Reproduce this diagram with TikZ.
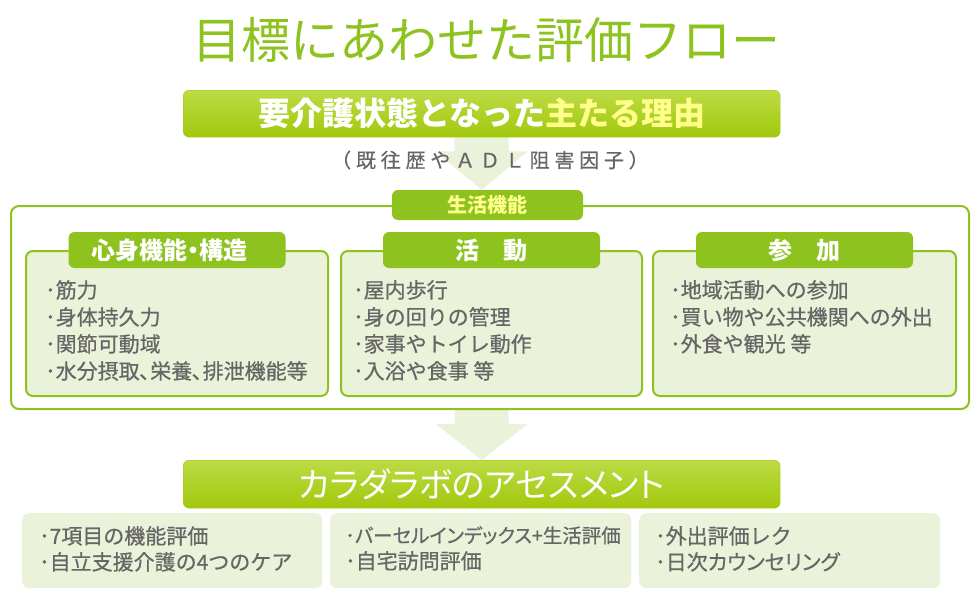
\documentclass[tikz,border=0pt]{standalone}
\usepackage{fontspec}
\setmainfont{Noto Sans CJK JP}
\newfontfamily\prop[RawFeature=+palt]{Noto Sans CJK JP}
\newfontfamily\body[FakeBold=0.6]{Noto Sans CJK JP}
\newfontfamily\bodyprop[FakeBold=0.6,RawFeature=+palt]{Noto Sans CJK JP}
\newfontfamily\wide[LetterSpace=24,FakeBold=0.5]{Noto Sans CJK JP}
\usepackage{tikz}
\usetikzlibrary{calc,positioning,backgrounds}
\definecolor{leaf}{HTML}{8DC21F}
\definecolor{leaftop}{HTML}{BCDB45}
\definecolor{leafbot}{HTML}{A2C80C}
\definecolor{pale}{HTML}{EAF2DA}
\definecolor{ink}{HTML}{666666}
\definecolor{lemon}{HTML}{FFFF8C}

\begin{document}
        \begin{tikzpicture}[x=1pt,y=-1pt,
            bar/.style={draw=leafbot,rounded corners=6pt,top color=leaftop,bottom color=leafbot,minimum width=597pt,minimum height=47pt,inner sep=0pt,text=white},
            tab/.style={fill=leaf,rounded corners=6pt,minimum width=217pt,minimum height=36pt,inner sep=0pt,text=white,font=\prop\bfseries\fontsize{24}{24}\selectfont},
            panel/.style={draw=leaf,line width=2pt,fill=pale,rounded corners=7pt,minimum height=145pt,inner sep=0pt,anchor=north west},
            card/.style={fill=pale,rounded corners=7pt,minimum height=75pt,inner sep=0pt,anchor=north west},
            items/.style={anchor=north west,align=left,inner sep=0pt,text=ink,font=\body\fontsize{21}{27}\selectfont},
            tools/.style={anchor=north west,align=left,inner sep=0pt,text=ink,font=\body\fontsize{21}{26}\selectfont}]
            \useasboundingbox (0,0) rectangle (980,608);
            \node[text=leaf,font=\fontsize{49}{49}\selectfont] (Title) at (486,40) {目標にあわせた評価フロー};
            \node[bar,anchor=north west] (Reason) at (183,90) {\bfseries\fontsize{32}{32}\selectfont 要介護状態となった\textcolor{lemon}{主たる理由}};
            \node[text=ink,font=\wide\fontsize{20}{20}\selectfont] (Note) at (490,160) {（既往歴やＡＤＬ阻害因子）};
            \node[draw=leaf,line width=2pt,fill=white,rounded corners=8pt,minimum width=958pt,minimum height=203pt,inner sep=0pt,anchor=north west] (Outer) at (10,205) {};
            \node[fill=leaf,rounded corners=6pt,minimum width=191pt,minimum height=30pt,inner sep=0pt,text=lemon,font=\bfseries\fontsize{20}{20}\selectfont] (Func) at (487.5,205) {生活機能};
            \node[panel,minimum width=302pt] (Panel0) at (25,250) {};
            \node[panel,minimum width=301pt] (Panel1) at (340,250) {};
            \node[panel,minimum width=303pt] (Panel2) at (652,250) {};
            \node[tab] (Tab0) at (Panel0.north) {心身機能・構造\hspace*{16pt}};
            \node[tab] (Tab1) at (Panel1.north) {活\hspace{1em}動};
            \node[tab] (Tab2) at (Panel2.north) {参\hspace{1em}加};
            \node[items] (List0) at (45,280) {･筋力\\･身体持久力\\･関節可動域\\･水分摂取､栄養､排泄機能等};
            \node[items] (List1) at (353,280) {･屋内歩行\\･身の回りの管理\\･家事やトイレ動作\\･入浴や食事\ 等};
            \node[items] (List2) at (670,280) {･地域活動への参加\\･買い物や公共機関への外出\\･外食や観光\ 等};
            \node[bar,minimum height=48pt,anchor=north west] (Assess) at (183,460) {\prop\fontsize{34}{34}\selectfont カラダラボのアセスメント};
            \node[card,minimum width=300pt] (Card0) at (22,513) {};
            \node[card,minimum width=301pt] (Card1) at (330,513) {};
            \node[card,minimum width=301pt] (Card2) at (639,513) {};
            \node[tools] (Tool0) at (39,526) {･7項目の機能評価\\･自立支援介護の4つのケア};
            \node[tools] (Tool1) at (345,526) {{\bodyprop\fontsize{19.5}{26}\selectfont ･バーセルインデックス+生活評価}\\･自宅訪問評価};
            \node[tools] (Tool2) at (655,526) {･外出評価レク\\{\bodyprop ･日次カウンセリング}};
            \begin{scope}[on background layer]
                \fill[pale] ($(Reason.south)+(-27,0)$) -- ($(Reason.south)+(-27,14)$) -- ($(Reason.south)+(-46,14)$)
                    -- (Reason.south |- Func.north) -- ($(Reason.south)+(46,14)$) -- ($(Reason.south)+(27,14)$) -- ($(Reason.south)+(27,0)$) -- cycle;
                \fill[pale] ($(Outer.south -| Assess.north)+(-27,0)$) -- ($(Outer.south -| Assess.north)+(-27,14)$) -- ($(Outer.south -| Assess.north)+(-46,14)$)
                    -- (Assess.north) -- ($(Outer.south -| Assess.north)+(46,14)$) -- ($(Outer.south -| Assess.north)+(27,14)$) -- ($(Outer.south -| Assess.north)+(27,0)$) -- cycle;
            \end{scope}
        \end{tikzpicture}
\end{document}
